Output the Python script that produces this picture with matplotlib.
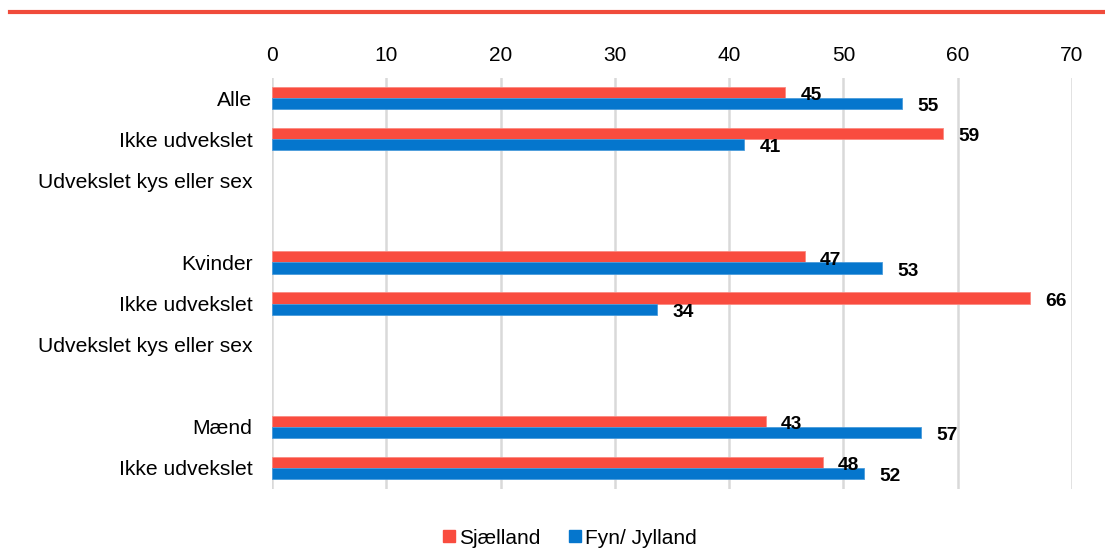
import numpy as np
import matplotlib.pyplot as plt
from matplotlib.patches import Patch

plt.rcParams['font.family'] = ['Liberation Sans', 'DejaVu Sans']

# categories (blank strings are spacer rows)
categories = ["Alle", "Ikke udvekslet", "Udvekslet kys eller sex", "",
              "Kvinder", "Ikke udvekslet", "Udvekslet kys eller sex", "",
              "Mænd", "Ikke udvekslet"]
sjaelland = [44.9, 58.7, np.nan, np.nan, 46.6, 66.3, np.nan, np.nan, 43.2, 48.2]
fyn_jylland = [55.1, 41.3, np.nan, np.nan, 53.4, 33.7, np.nan, np.nan, 56.8, 51.8]
series_names = ["Sjælland", "Fyn/ Jylland"]

RED = "#F94C3F"
BLUE = "#0576CD"

fig = plt.figure(figsize=(11.05, 5.49), dpi=100)
ax = fig.add_axes([272 / 1105, 1 - 488.5 / 549, 800 / 1105, 411 / 549])

y = np.arange(len(categories))
h = 0.27
ax.barh(y - h / 2, sjaelland, height=h, color=RED, edgecolor="#FA8A82", linewidth=0.6, zorder=3)
ax.barh(y + h / 2, fyn_jylland, height=h, color=BLUE, edgecolor="#4A9BDB", linewidth=0.6, zorder=3)

# value labels
for vals, off in ((sjaelland, -h / 2), (fyn_jylland, h / 2)):
    for yi, v in zip(y, vals):
        if np.isnan(v):
            continue
        ax.annotate("{:.0f}".format(v), (v, yi + off), xytext=(11, -2.3),
                    textcoords="offset points", ha="left", va="center",
                    fontsize=13.8, fontweight="bold", color="black")

ax.set_xlim(0, 70)
ax.set_ylim(len(categories) - 0.5, -0.5)
ax.set_xticks(np.arange(0, 71, 10))
ax.set_yticks(y)
ax.set_yticklabels(categories)
ax.xaxis.tick_top()
ax.tick_params(axis="x", length=0, pad=9, labelsize=15)
ax.tick_params(axis="y", length=0, pad=14, labelsize=15.2)
for s in ax.spines.values():
    s.set_visible(False)
ax.grid(axis="x", color="#D9D9D9", linewidth=1.8, zorder=0)
ax.set_axisbelow(True)

# top red rule
fig.add_artist(plt.Line2D([10 / 1105, 1.0], [1 - 12 / 549, 1 - 12 / 549],
                          color="#F04B3B", linewidth=3))

handles = [Patch(color=RED), Patch(color=BLUE)]
fig.legend(handles, series_names, loc="center", bbox_to_anchor=(570 / 1105, 1 - 538 / 549),
           ncol=2, frameon=False, fontsize=15, handlelength=0.55, handleheight=0.55,
           handletextpad=0.2, columnspacing=1.4)

plt.savefig("out.png", dpi=100)
